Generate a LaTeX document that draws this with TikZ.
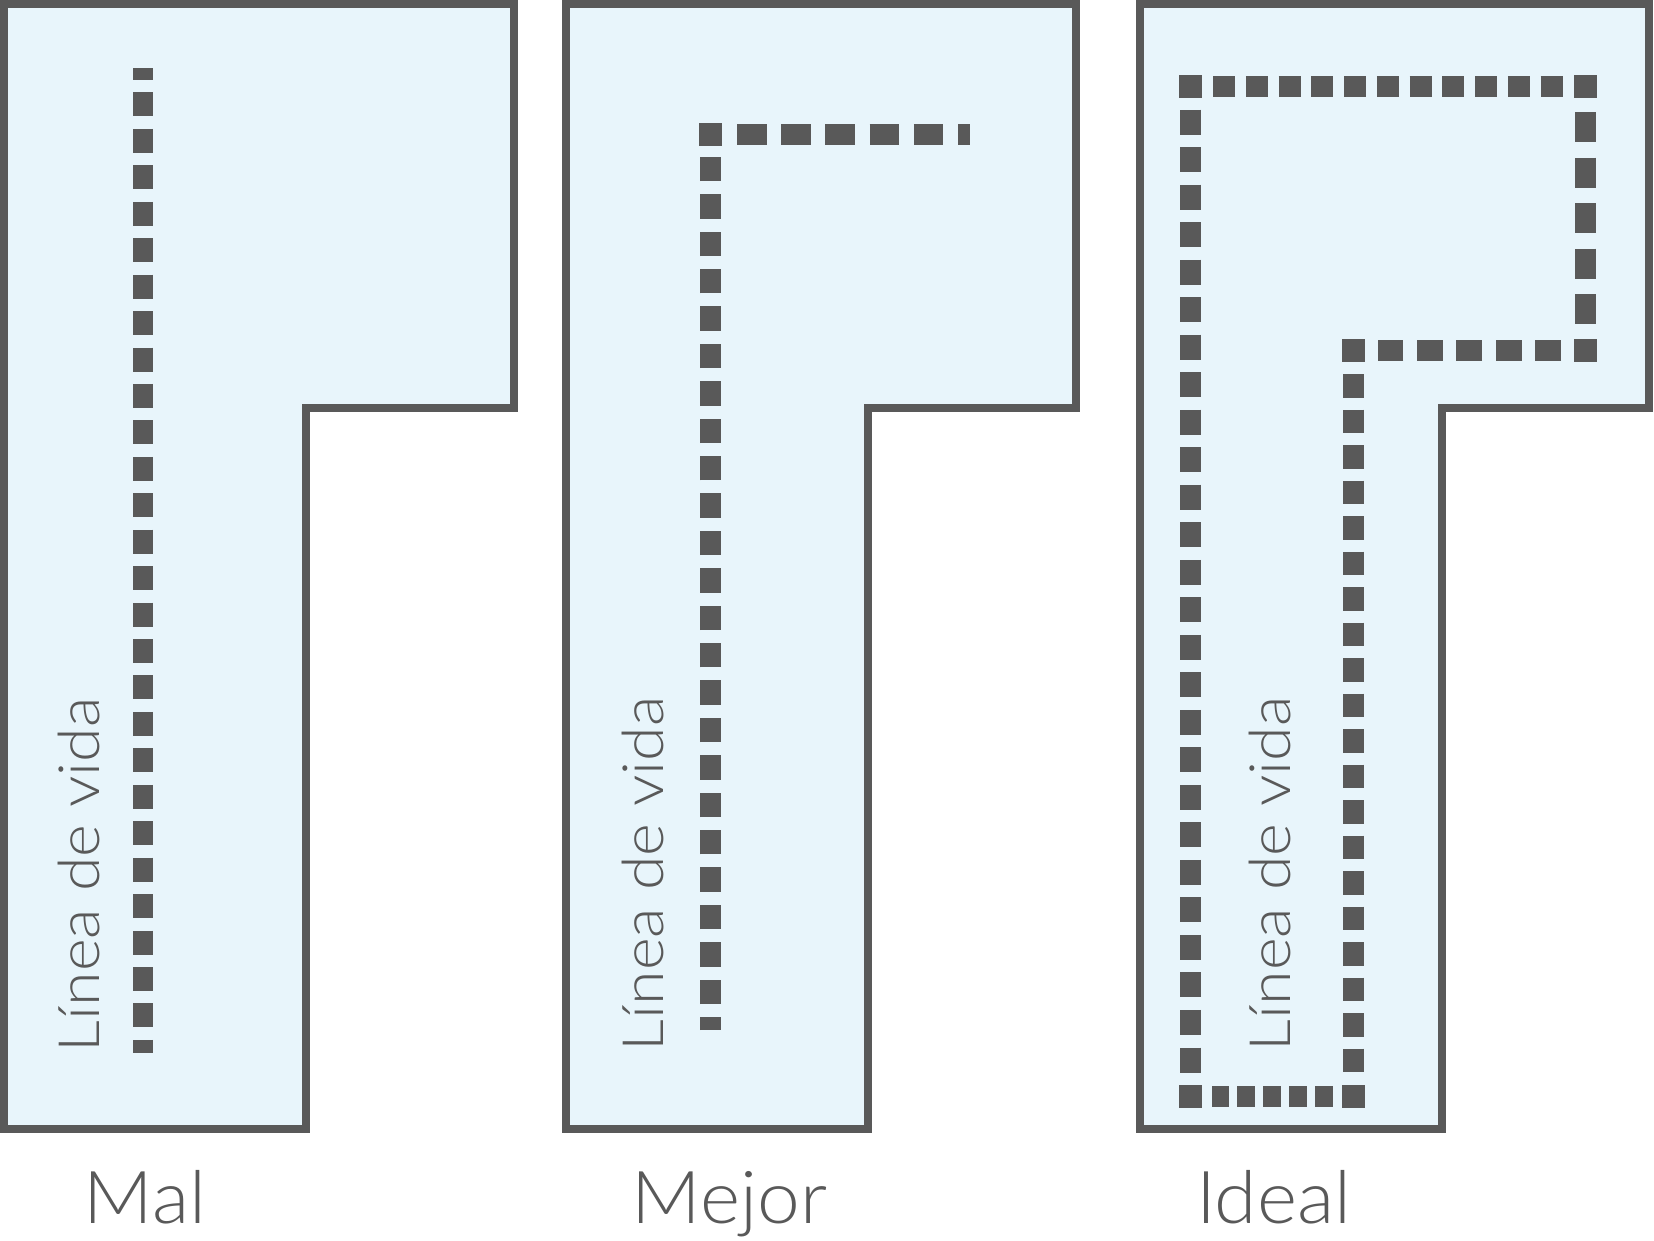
\documentclass[tikz,border=0pt]{standalone}
\usepackage{fontspec}
\setmainfont{Lato Light}
\usepackage{tikz}
\definecolor{wallgray}{HTML}{595959}
\definecolor{roomblue}{HTML}{E8F5FB}
\tikzset{
every path/.style={line width=8pt}
, every node/.style={inner sep=0, text=wallgray}
, room/.style={draw=wallgray, fill=roomblue}
, lifeline/.style={draw=wallgray, line width=21pt}
, gapped/.style={shorten <=#1, shorten >=#1}
, corner/.style={fill=wallgray, minimum size=23pt, outer sep=0}
, ropetext/.style={rotate=90, anchor=base west, font=\fontsize{57}{60}\selectfont\addfontfeatures{FakeStretch=1.1}}
, caption/.style={anchor=base, font=\fontsize{73}{80}\selectfont\addfontfeatures{FakeStretch=1.05}}}

\begin{document}
\begin{tikzpicture}[x=1pt, y=-1pt]
\useasboundingbox (0,0) rectangle (1654,1240);
% the three rooms
\draw[room] (4,4) -- (514,4) -- (514,408) -- (306,408) -- (306,1129) -- (4,1129) -- cycle;
\draw[room] (566,4) -- (1076,4) -- (1076,408) -- (868,408) -- (868,1129) -- (566,1129) -- cycle;
\draw[room] (1140,4) -- (1649,4) -- (1649,408) -- (1442,408) -- (1442,1129) -- (1140,1129) -- cycle;

% Mal
\coordinate (a1) at (143,68);
\coordinate (a2) at (143,1053);
\draw[lifeline, line width=20pt, dash pattern=on 24pt off 12.44pt, dash phase=12pt] (a1) -- (a2);
\node[ropetext] (t1) at (99,1056) {Línea de vida};
\node[caption] (l1) at (145,1223) {Mal};

% Mejor
\node[corner] (m1) at (710,134) {};
\coordinate (m2) at (710,1030);
\coordinate (m3) at (970,134);
\draw[lifeline, dash pattern=on 24.4pt off 13pt, dash phase=11.4pt] (m2) -- (m1);
\draw[lifeline, dash pattern=on 29.5pt off 14.7pt, shorten <=15.5pt] (m1) -- (m3);
\node[ropetext] (t2) at (663,1055) {Línea de vida};
\node[caption] (l2) at (729.5,1223) {Mejor};

% Ideal
\node[corner] (k1) at (1190.5,86) {};
\node[corner] (k2) at (1585,86) {};
\node[corner] (k3) at (1585,350) {};
\node[corner] (k4) at (1353.5,350) {};
\node[corner] (k5) at (1353.5,1096) {};
\node[corner] (k6) at (1190.5,1096) {};
\draw[lifeline, gapped=12pt, dash pattern=on 25pt off 12.52pt] (k1) -- (k6);
\draw[lifeline, gapped=11pt, dash pattern=on 22pt off 10.75pt] (k1) -- (k2);
\draw[lifeline, gapped=14.5pt, dash pattern=on 30pt off 15.5pt] (k2) -- (k3);
\draw[lifeline, gapped=12.5pt, dash pattern=on 26pt off 13.4pt] (k3) -- (k4);
\draw[lifeline, gapped=12.5pt, dash pattern=on 23.5pt off 12pt] (k4) -- (k5);
\draw[lifeline, gapped=9.5pt, dash pattern=on 17.5pt off 8.4pt] (k5) -- (k6);
\node[ropetext] (t3) at (1290,1055) {Línea de vida};
\node[caption] (l3) at (1273.5,1223) {Ideal};
\end{tikzpicture}
\end{document}
